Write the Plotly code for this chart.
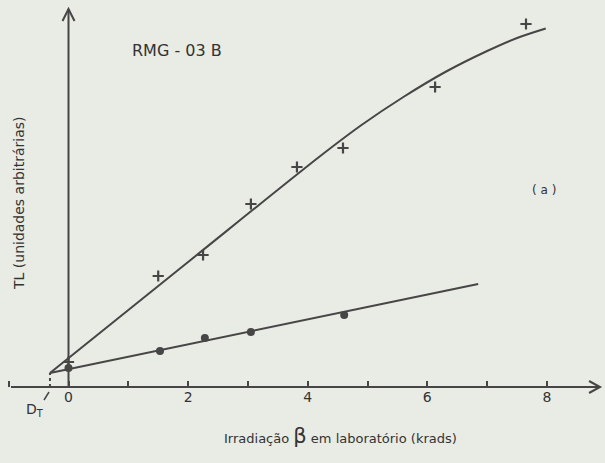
import plotly.graph_objects as go

# ---- data (x in krads, y in arbitrary TL units) ----
plus_x = [0.0, 1.50, 2.25, 3.05, 3.82, 4.59, 6.13, 7.65]
plus_y = [2.5, 11.1, 13.2, 18.3, 22.0, 23.9, 30.0, 36.3]

dot_x = [0.0, 1.53, 2.28, 3.05, 4.61]
dot_y = [1.9, 3.6, 4.9, 5.5, 7.2]

# fitted curves (drawn by hand on the original)
fit_upper_x = [-0.31, 2.0, 4.2, 4.9, 5.6, 6.3, 7.0, 7.5, 7.98]
fit_upper_y = [1.4, 12.5, 23.05, 26.2, 29.0, 31.5, 33.6, 34.9, 35.85]
fit_lower_x = [-0.31, 6.85]
fit_lower_y = [1.4, 10.3]

dose_threshold = -0.31
tick_vals = [0, 2, 4, 6, 8]
tick_text = ["0", "2", "4", "6", "8"]

# ---- styling ----
INK = "#464646"
TXT = "#333333"
BG = "#e9ebe5"
FONT = "DejaVu Sans"
X_RANGE = [-1.1455, 8.971]
Y_RANGE = [-7.6, 38.7]


def px_x(p):
    return (p - 68.5) / 59.8


def px_y(p):
    return (387 - p) / 10.0


fig = go.Figure()

fig.add_trace(go.Scatter(x=fit_upper_x, y=fit_upper_y, mode="lines",
                         line=dict(color=INK, width=2, shape="spline", smoothing=0.8),
                         hoverinfo="skip", showlegend=False))
fig.add_trace(go.Scatter(x=fit_lower_x, y=fit_lower_y, mode="lines",
                         line=dict(color=INK, width=2),
                         hoverinfo="skip", showlegend=False))
fig.add_trace(go.Scatter(x=plus_x, y=plus_y, mode="markers",
                         marker=dict(symbol="cross-thin", size=8,
                                     line=dict(color=INK, width=2.2)),
                         showlegend=False))
fig.add_trace(go.Scatter(x=dot_x, y=dot_y, mode="markers",
                         marker=dict(symbol="circle", size=8, color=INK),
                         showlegend=False))

shapes = []
# x axis line with open arrowhead
shapes.append(dict(type="line", x0=px_x(11), x1=px_x(600), y0=0, y1=0,
                   line=dict(color=INK, width=2)))
shapes.append(dict(type="path",
                   path=f"M {px_x(589)},{px_y(381)} L {px_x(600)},0 L {px_x(589)},{px_y(393)}",
                   line=dict(color=INK, width=2)))
# y axis line with open arrowhead
shapes.append(dict(type="line", x0=0, x1=0, y0=0, y1=px_y(9),
                   line=dict(color=INK, width=2)))
shapes.append(dict(type="path",
                   path=f"M {px_x(62.5)},{px_y(21)} L 0,{px_y(9)} L {px_x(74.5)},{px_y(21)}",
                   line=dict(color=INK, width=2)))
# dotted drop line at D_T
shapes.append(dict(type="line", x0=dose_threshold, x1=dose_threshold,
                   y0=0, y1=fit_lower_y[0],
                   line=dict(color=INK, width=2, dash="dot")))
# small pointer from label to D_T
shapes.append(dict(type="line", x0=px_x(44), x1=px_x(49), y0=px_y(400), y1=px_y(392),
                   line=dict(color=INK, width=1.5)))

annotations = [
    dict(x=px_x(177), y=px_y(50), text="RMG - 03 B", showarrow=False,
         font=dict(family=FONT, size=16, color=TXT)),
    dict(x=px_x(544), y=px_y(190), text="( a )", showarrow=False,
         font=dict(family=FONT, size=12, color=TXT)),
    dict(x=px_x(35), y=px_y(410), text="D<sub>T</sub>", showarrow=False,
         font=dict(family=FONT, size=14, color=TXT)),
    dict(x=px_x(340), y=px_y(436),
         text="Irradiação <span style='font-size:21px'>β</span> em laboratório (krads)",
         showarrow=False, font=dict(family=FONT, size=13, color=TXT)),
    dict(x=px_x(19), y=px_y(203), text="TL (unidades arbitrárias)", textangle=-90,
         showarrow=False, font=dict(family=FONT, size=14, color=TXT)),
]

fig.update_layout(
    width=605, height=463,
    margin=dict(l=0, r=0, t=0, b=0),
    paper_bgcolor=BG, plot_bgcolor=BG,
    shapes=shapes, annotations=annotations,
    showlegend=False,
    xaxis=dict(range=X_RANGE, domain=[0, 1], anchor="free",
               position=(0 - Y_RANGE[0]) / (Y_RANGE[1] - Y_RANGE[0]),
               tickvals=tick_vals, ticktext=tick_text,
               ticks="inside", ticklen=6, tickwidth=2, tickcolor=INK,
               minor=dict(dtick=1, tick0=0, ticks="inside", ticklen=6,
                          tickwidth=2, tickcolor=INK, showgrid=False),
               showline=False, showgrid=False, zeroline=False,
               tickfont=dict(family=FONT, size=14, color=TXT)),
    yaxis=dict(range=Y_RANGE, domain=[0, 1], visible=False,
               showgrid=False, zeroline=False),
)

fig.write_html("out.html", config={"displayModeBar": False},
               post_script="document.body.style.margin='0px';document.body.style.overflow='hidden';")
